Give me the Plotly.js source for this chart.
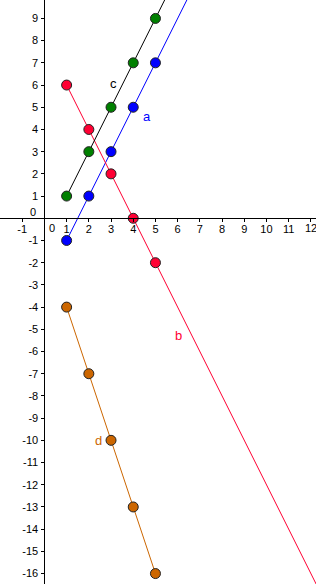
<!DOCTYPE html>
<html>
<head>
<meta charset="utf-8">
<script src="https://cdn.plot.ly/plotly-3.0.1.min.js"></script>
<style>html,body{margin:0;padding:0;background:#fff;}#chart{width:316px;height:584px;}</style>
</head>
<body>
<div id="chart"></div>
<script>
// Data
const xs = [1, 2, 3, 4, 5];
const aY = [-1, 1, 3, 5, 7];      // blue points, line a
const bY = [6, 4, 2, 0, -2];      // red points, line b
const cY = [1, 3, 5, 7, 9];       // green points, line c
const dY = [-4, -7, -10, -13, -16]; // orange points, line d
const lineNames = ['a', 'b', 'c', 'd'];
const lineXStart = [1, 1, 1, 1];
const lineXEnd = [6.6, 12.6, 5.6, 5];
const xTicks = [-1, 1, 2, 3, 4, 5, 6, 7, 8, 9, 10, 11];
const xEdgeTick = [12];
const yTicks = [-16, -15, -14, -13, -12, -11, -10, -9, -8, -7, -6, -5, -4, -3, -2, -1, 1, 2, 3, 4, 5, 6, 7, 8, 9];
// label positions for line names
const labelX = [4.6, 6.05, 3.1, 2.45];
const labelY = [4.6, -5.3, 6.05, -10.0];

const seriesY = [aY, bY, cY, dY];
const lineColors = ['#0000ff', '#ff0033', '#000000', '#cc6600'];
const pointColors = ['#0000ff', '#ff0033', '#008000', '#cc6600'];

const xRange = [-2.0, 12.23];
const yRange = [-16.47, 9.83];

function lineThrough(xsArr, ysArr, x) {
  const m = (ysArr[1] - ysArr[0]) / (xsArr[1] - xsArr[0]);
  return ysArr[0] + m * (x - xsArr[0]);
}

const traces = [];
seriesY.forEach((ys, i) => {
  const x0 = lineXStart[i], x1 = lineXEnd[i];
  traces.push({
    x: [x0, x1], y: [lineThrough(xs, ys, x0), lineThrough(xs, ys, x1)],
    mode: 'lines', line: {color: lineColors[i], width: 1},
    hoverinfo: 'skip', showlegend: false
  });
});
seriesY.forEach((ys, i) => {
  traces.push({
    x: xs, y: ys, mode: 'markers',
    marker: {size: 10, color: pointColors[i], line: {color: '#222', width: 1}},
    showlegend: false, cliponaxis: false
  });
});

const font = {family: '"Liberation Sans", Arial, sans-serif', size: 11, color: '#000'};
const annotations = lineNames.map((n, i) => ({
  x: labelX[i], y: labelY[i], text: n, showarrow: false,
  font: {family: '"Liberation Sans", Arial, sans-serif', size: 13, color: i === 2 ? '#000' : lineColors[i]}
}));
annotations.push({x: 0.33, y: 0, yshift: -10, text: '0', showarrow: false, font: font});
annotations.push({x: -0.5, y: 0, yshift: 6, text: '0', showarrow: false, font: font});
xEdgeTick.forEach(v => annotations.push({x: v, y: 0, yshift: -10, text: String(v), showarrow: false, font: font}));

const layout = {
  width: 316, height: 584,
  margin: {l: 0, r: 0, t: 0, b: 0, pad: 0},
  paper_bgcolor: '#fff', plot_bgcolor: '#fff',
  showlegend: false,
  font: font,
  xaxis: {
    range: xRange, anchor: 'free', position: (0 - yRange[0]) / (yRange[1] - yRange[0]),
    showgrid: false, zeroline: false, showline: true, linecolor: '#000', linewidth: 1,
    ticks: 'outside', ticklen: 3, tickcolor: '#000', tickwidth: 1,
    tickvals: xTicks.concat(xEdgeTick), ticktext: xTicks.map(String).concat(['']),
    tickfont: font, ticklabelstandoff: -2, fixedrange: true
  },
  yaxis: {
    range: yRange, anchor: 'free', position: (0 - xRange[0]) / (xRange[1] - xRange[0]),
    showgrid: false, zeroline: false, showline: true, linecolor: '#000', linewidth: 1,
    ticks: 'outside', ticklen: 3, tickcolor: '#000', tickwidth: 1,
    tickvals: yTicks, ticktext: yTicks.map(String), tickfont: font, ticklabelstandoff: 1, fixedrange: true
  },
  annotations: annotations
};

Plotly.newPlot('chart', traces, layout, {displayModeBar: false, staticPlot: true});
</script>
</body>
</html>
